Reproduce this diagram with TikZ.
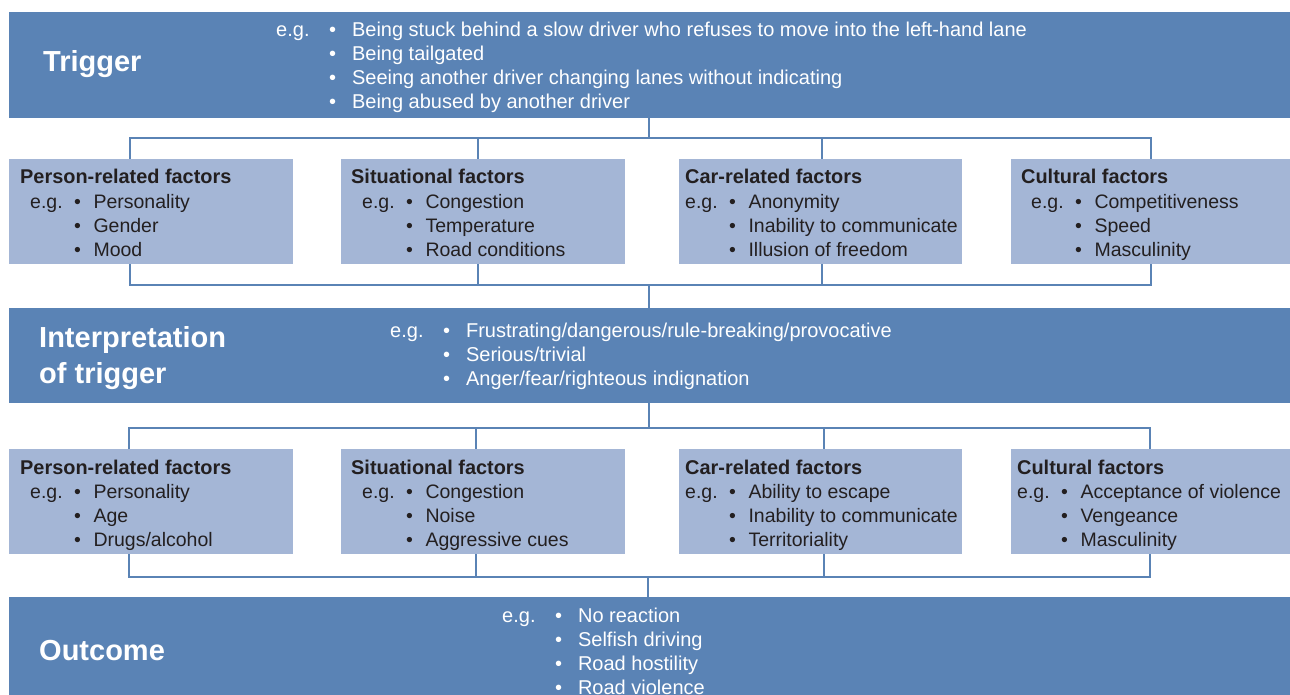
\documentclass[tikz,border=0pt]{standalone}
\usepackage{fontspec}
\setmainfont{Liberation Sans}
\definecolor{banner}{HTML}{5A83B5}
\definecolor{factor}{HTML}{A4B6D6}
\definecolor{ink}{HTML}{231F20}
\newlength{\egA}
\newlength{\egB}
\newcommand{\eg}{e.g.\hspace{\egA}\textbullet\hspace{\egB}}
\newcommand{\nx}{\phantom{e.g.}\hspace{\egA}\textbullet\hspace{\egB}}
\begin{document}
\begin{tikzpicture}[x=1pt,y=-1pt,
    stage/.style={fill=banner,inner sep=0,anchor=north west,minimum width=1283pt},
    factorbox/.style={fill=factor,inner sep=0,anchor=north west,minimum height=105pt},
    stagetitle/.style={anchor=base west,inner sep=0,align=left,text=white,
      font=\fontsize{29}{35.5}\selectfont\bfseries},
    bannerlist/.style={anchor=base west,inner sep=0,align=left,text=white,
      font=\fontsize{20}{24}\selectfont\setlength{\egA}{19.5pt}\setlength{\egB}{16pt}},
    boxhead/.style={anchor=base west,inner sep=0,text=ink,
      font=\fontsize{19.9}{24}\selectfont\bfseries},
    boxlist/.style={anchor=base west,inner sep=0,align=left,text=ink,
      font=\fontsize{19.5}{24}\selectfont\setlength{\egA}{11.5pt}\setlength{\egB}{12.5pt}},
    link/.style={draw=banner,line width=2.5pt}]
  \useasboundingbox (0,0) rectangle (1290,695);

  % stages
  \node[stage,minimum height=106pt] (trig) at (9,12) {};
  \node[stage,minimum height=95pt] (interp) at (9,308) {};
  \node[stage,minimum height=110pt] (outc) at (9,597) {};

  % factor boxes
  \node[factorbox,minimum width=284pt] (p1) at (9,159) {};
  \node[factorbox,minimum width=284pt] (p2) at (341,159) {};
  \node[factorbox,minimum width=283pt] (p3) at (679,159) {};
  \node[factorbox,minimum width=281pt] (p4) at (1011,159) {};
  \node[factorbox,minimum width=284pt] (q1) at (9,449) {};
  \node[factorbox,minimum width=284pt] (q2) at (341,449) {};
  \node[factorbox,minimum width=283pt] (q3) at (679,449) {};
  \node[factorbox,minimum width=281pt] (q4) at (1011,449) {};

  % connectors
  \coordinate (j1) at (649,138);
  \coordinate (j2) at (649,285);
  \coordinate (j3) at (649,428);
  \coordinate (j4) at (648,577);
  \foreach \x [count=\i] in {130,478,822,1151} {
    \coordinate (t\i) at (\x,138);
    \coordinate (u\i) at (\x,285);
  }
  \foreach \x [count=\i] in {129,476,824,1150} {
    \coordinate (v\i) at (\x,428);
    \coordinate (w\i) at (\x,577);
  }
  \draw[link] (trig.south -| j1) -- (j1);
  \draw[link] (t1 |- p1.north) -- (t1) -- (t4) -- (t4 |- p4.north);
  \draw[link] (t2) -- (t2 |- p2.north);
  \draw[link] (t3) -- (t3 |- p3.north);
  \draw[link] (u1 |- p1.south) -- (u1) -- (u4) -- (u4 |- p4.south);
  \draw[link] (p2.south -| u2) -- (u2);
  \draw[link] (p3.south -| u3) -- (u3);
  \draw[link] (j2) -- (interp.north -| j2);
  \draw[link] (interp.south -| j3) -- (j3);
  \draw[link] (v1 |- q1.north) -- (v1) -- (v4) -- (v4 |- q4.north);
  \draw[link] (v2) -- (v2 |- q2.north);
  \draw[link] (v3) -- (v3 |- q3.north);
  \draw[link] (w1 |- q1.south) -- (w1) -- (w4) -- (w4 |- q4.south);
  \draw[link] (q2.south -| w2) -- (w2);
  \draw[link] (q3.south -| w3) -- (w3);
  \draw[link] (j4) -- (outc.north -| j4);

  % stage texts (multi-line nodes sit on their last baseline)
  \node[stagetitle] (trig-t) at (43,72) {Trigger};
  \node[bannerlist] (trig-l) at (276,109) {\eg Being stuck behind a slow driver who refuses to move into the left-hand lane\\
    \nx Being tailgated\\ \nx Seeing another driver changing lanes without indicating\\ \nx Being abused by another driver};
  \node[stagetitle] (interp-t) at (39,383) {Interpretation\\of trigger};
  \node[bannerlist] (interp-l) at (390,385) {\eg Frustrating/dangerous/rule-breaking/provocative\\
    \nx Serious/trivial\\ \nx Anger/fear/righteous indignation};
  \node[stagetitle] (outc-t) at (39,660) {Outcome};
  \node[bannerlist] (outc-l) at (502,694) {\eg No reaction\\ \nx Selfish driving\\ \nx Road hostility\\ \nx Road violence};

  % factors before interpretation
  \node[boxhead] (p1-h) at (20,184) {Person-related factors};
  \node[boxlist] (p1-l) at (30,256) {\eg Personality\\ \nx Gender\\ \nx Mood};
  \node[boxhead] (p2-h) at (351,184) {Situational factors};
  \node[boxlist] (p2-l) at (362,256) {\eg Congestion\\ \nx Temperature\\ \nx Road conditions};
  \node[boxhead] (p3-h) at (685,184) {Car-related factors};
  \node[boxlist] (p3-l) at (685,256) {\eg Anonymity\\ \nx Inability to communicate\\ \nx Illusion of freedom};
  \node[boxhead] (p4-h) at (1021,184) {Cultural factors};
  \node[boxlist] (p4-l) at (1031,256) {\eg Competitiveness\\ \nx Speed\\ \nx Masculinity};

  % factors before outcome
  \node[boxhead] (q1-h) at (20,474) {Person-related factors};
  \node[boxlist] (q1-l) at (30,546) {\eg Personality\\ \nx Age\\ \nx Drugs/alcohol};
  \node[boxhead] (q2-h) at (351,474) {Situational factors};
  \node[boxlist] (q2-l) at (362,546) {\eg Congestion\\ \nx Noise\\ \nx Aggressive cues};
  \node[boxhead] (q3-h) at (685,474) {Car-related factors};
  \node[boxlist] (q3-l) at (685,546) {\eg Ability to escape\\ \nx Inability to communicate\\ \nx Territoriality};
  \node[boxhead] (q4-h) at (1017,474) {Cultural factors};
  \node[boxlist] (q4-l) at (1017,546) {\eg Acceptance of violence\\ \nx Vengeance\\ \nx Masculinity};
\end{tikzpicture}
\end{document}
